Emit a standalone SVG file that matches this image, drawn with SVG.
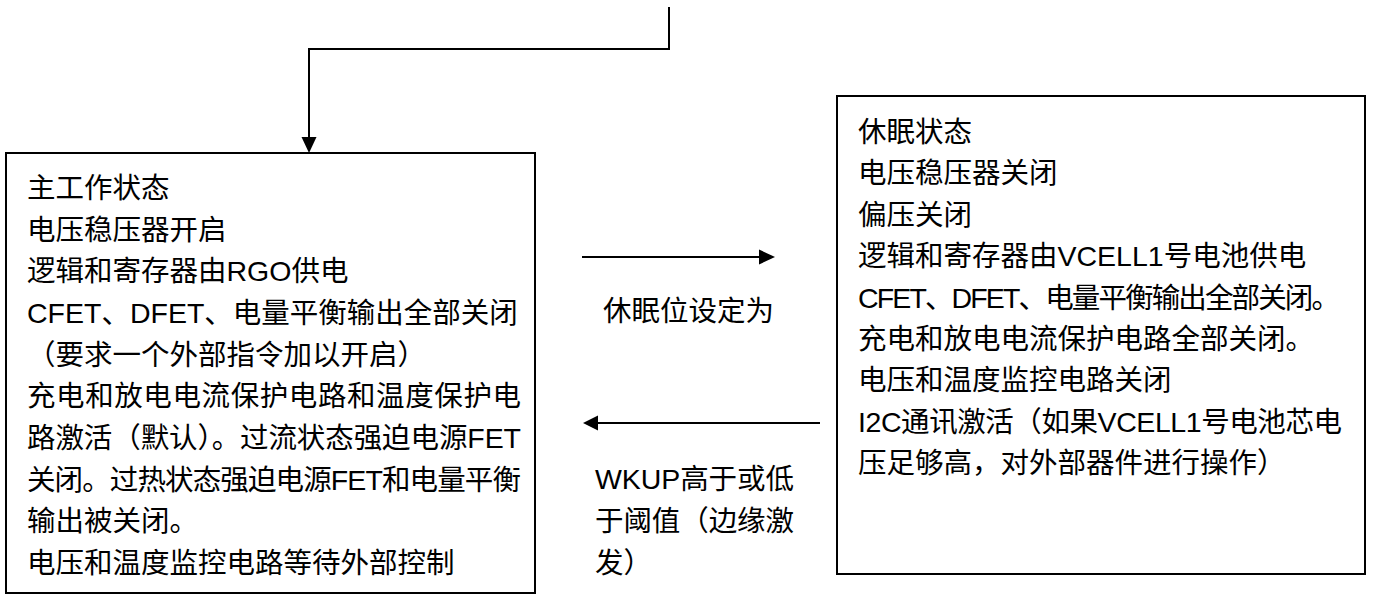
<svg xmlns="http://www.w3.org/2000/svg" width="1376" height="595" viewBox="0 0 1376 595">
<style>
.box{fill:#fff;stroke:#000;stroke-width:2}
.ln{fill:none;stroke:#000;stroke-width:2}
.hd{fill:#000;stroke:none}
text{font-family:"Liberation Sans","Noto Sans CJK SC",sans-serif;font-size:28.5px;fill:#000}
</style>
<rect width="1376" height="595" fill="#fff"/>
<g id="connectors">
<path class="ln" d="M669,7 V49 H309 V138"/>
<polygon class="hd" points="301.5,137 316.5,137 309,153"/>
<path class="ln" d="M582,257 H760"/>
<polygon class="hd" points="759,249.5 775,257 759,264.5"/>
<path class="ln" d="M820,423 H597"/>
<polygon class="hd" points="598,415.5 583,423 598,430.5"/>
<text x="603" y="321">休眠位设定为</text>
<text x="595" y="489" textLength="199" lengthAdjust="spacing">WKUP高于或低</text>
<text x="595" y="531" textLength="199" lengthAdjust="spacing">于阈值（边缘激</text>
<text x="595" y="573">发）</text>
</g>
<g id="main">
<rect class="box" x="6" y="153" width="529" height="440"/>
<text x="27" y="198">主工作状态</text>
<text x="27" y="240">电压稳压器开启</text>
<text x="27" y="281">逻辑和寄存器由RGO供电</text>
<text x="27" y="323">CFET、DFET、电量平衡输出全部关闭</text>
<text x="27" y="365">（要求一个外部指令加以开启）</text>
<text x="27" y="406" textLength="494" lengthAdjust="spacing">充电和放电电流保护电路和温度保护电</text>
<text x="27" y="448" textLength="494" lengthAdjust="spacing">路激活（默认）。过流状态强迫电源FET</text>
<text x="27" y="490" textLength="494" lengthAdjust="spacing">关闭。过热状态强迫电源FET和电量平衡</text>
<text x="27" y="531">输出被关闭。</text>
<text x="27" y="573">电压和温度监控电路等待外部控制</text>
</g>
<g id="sleep">
<rect class="box" x="837" y="96" width="528" height="478"/>
<text x="858" y="142">休眠状态</text>
<text x="858" y="183">电压稳压器关闭</text>
<text x="858" y="225">偏压关闭</text>
<text x="858" y="266">逻辑和寄存器由VCELL1号电池供电</text>
<text x="858" y="308" textLength="482" lengthAdjust="spacing">CFET、DFET、电量平衡输出全部关闭。</text>
<text x="858" y="349">充电和放电电流保护电路全部关闭。</text>
<text x="858" y="390">电压和温度监控电路关闭</text>
<text x="858" y="432" textLength="484" lengthAdjust="spacing">I2C通讯激活（如果VCELL1号电池芯电</text>
<text x="858" y="473">压足够高，对外部器件进行操作）</text>
</g>
</svg>
